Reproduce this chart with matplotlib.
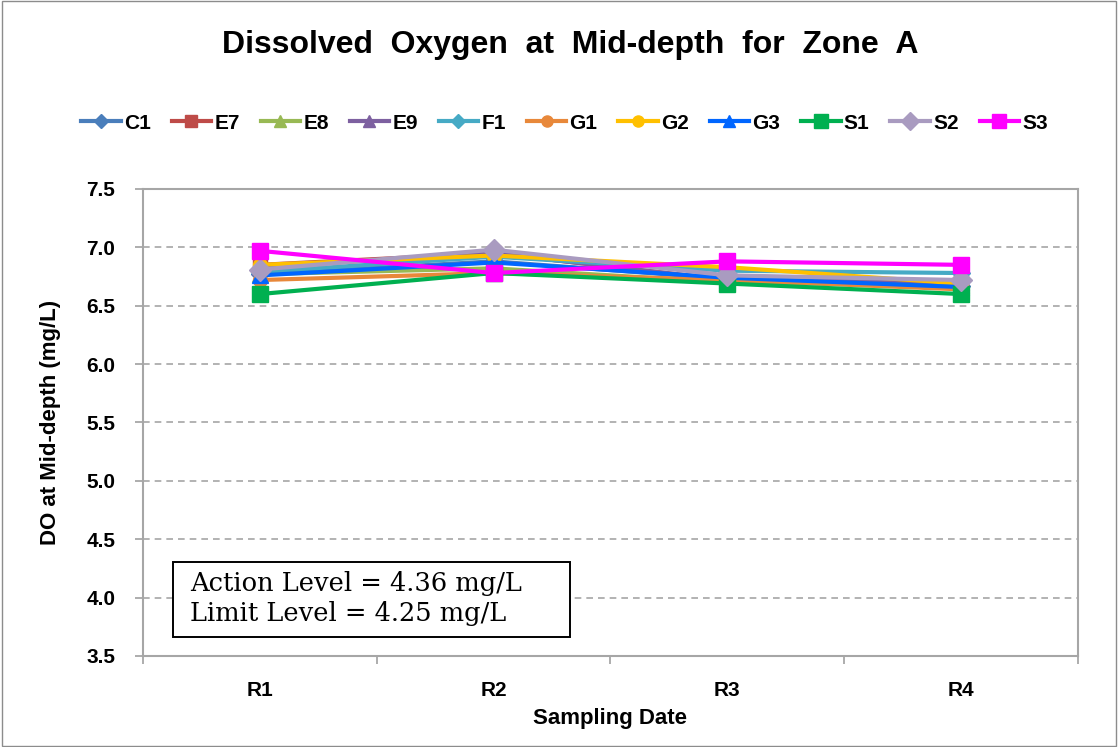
import matplotlib
matplotlib.use("Agg")
import matplotlib.pyplot as plt
from matplotlib.ticker import FixedLocator, MultipleLocator

categories = ["R1", "R2", "R3", "R4"]
stations = ["C1", "E7", "E8", "E9", "F1", "G1", "G2", "G3", "S1", "S2", "S3"]
C1 = [6.77, 6.88, 6.73, 6.67]
E7 = [6.85, 6.95, 6.72, 6.70]
E8 = [6.77, 6.82, 6.70, 6.68]
E9 = [6.83, 6.95, 6.72, 6.70]
F1 = [6.79, 6.92, 6.80, 6.78]
G1 = [6.72, 6.78, 6.72, 6.64]
G2 = [6.85, 6.93, 6.83, 6.69]
G3 = [6.76, 6.87, 6.74, 6.66]
S1 = [6.60, 6.78, 6.69, 6.60]
S2 = [6.81, 6.98, 6.76, 6.72]
S3 = [6.97, 6.78, 6.88, 6.85]
series = [C1, E7, E8, E9, F1, G1, G2, G3, S1, S2, S3]

colors = ["#4A7EBB", "#BE4B48", "#98B954", "#7D60A0", "#46AAC5", "#E8883A",
          "#FFC000", "#0066FF", "#00B050", "#A99BC0", "#FF00FF"]
markers = ["D", "s", "^", "^", "D", "o", "o", "^", "s", "D", "s"]
msizes = [9, 10, 11, 11, 9, 10, 10, 11, 12, 11, 12]

fig = plt.figure(figsize=(11.18, 7.47), dpi=100)
ax = fig.add_axes([0.128, 0.122, 0.836, 0.625])

x = list(range(len(categories)))
for name, vals, c, m, ms in zip(stations, series, colors, markers, msizes):
    ax.plot(x, vals, color=c, marker=m, markersize=ms, linewidth=3,
            markeredgecolor=c, label=name)

ax.set_xlim(-0.5, 3.5)
ax.set_ylim(3.5, 7.5)
ax.yaxis.set_major_locator(MultipleLocator(0.5))
ax.yaxis.set_major_formatter(matplotlib.ticker.FormatStrFormatter("%.1f"))
ax.set_xticks(x)
ax.set_xticklabels(categories)
ax.xaxis.set_minor_locator(FixedLocator([-0.5, 0.5, 1.5, 2.5, 3.5]))
ax.tick_params(axis="x", which="major", length=0, pad=18)
ax.tick_params(axis="x", which="minor", length=6, color="#A0A0A0", width=1.2)
ax.tick_params(axis="y", which="major", length=6, color="#A0A0A0", width=1.2, pad=14)
for lab in ax.get_xticklabels() + ax.get_yticklabels():
    lab.set_fontweight("bold")
    lab.set_fontsize(15)
    lab.set_fontfamily("Liberation Sans")

ax.yaxis.grid(True, linestyle=(0, (4, 3)), color="#A6A6A6", linewidth=1.2)
ax.set_axisbelow(True)
for sp in ax.spines.values():
    sp.set_color("#A6A6A6")
    sp.set_linewidth(1.5)

ax.set_xlabel("Sampling Date", fontsize=16, fontweight="bold",
              family="Liberation Sans", labelpad=6)
ax.set_ylabel("DO at Mid-depth (mg/L)", fontsize=16, fontweight="bold",
              family="Liberation Sans", labelpad=18)

fig.text(0.51, 0.94, "Dissolved  Oxygen  at  Mid-depth  for  Zone  A",
         ha="center", va="center", fontsize=23, fontweight="bold",
         family="Liberation Sans")

leg = fig.legend(loc="center", bbox_to_anchor=(0.505, 0.835), ncol=11,
                 frameon=False, prop={"family": "Liberation Sans", "weight": "bold", "size": 15},
                 handlelength=1.9, handletextpad=0.15, columnspacing=1.0,
                 markerscale=0.8)

box = plt.Rectangle((0.032, 0.041), 0.425, 0.160, transform=ax.transAxes,
                    facecolor="white", edgecolor="black", linewidth=1.4, zorder=10)
ax.add_patch(box)
ax.text(0.05, 0.122, "Action Level = 4.36 mg/L\nLimit Level = 4.25 mg/L",
        transform=ax.transAxes, ha="left", va="center", fontsize=18.5,
        family="DejaVu Serif", linespacing=1.25, zorder=11)

border = plt.Rectangle((0.002, 0.002), 0.996, 0.996, transform=fig.transFigure,
                       fill=False, edgecolor="#8C8C8C", linewidth=1.0)
fig.patches.append(border)

fig.savefig("out.png", dpi=100)
